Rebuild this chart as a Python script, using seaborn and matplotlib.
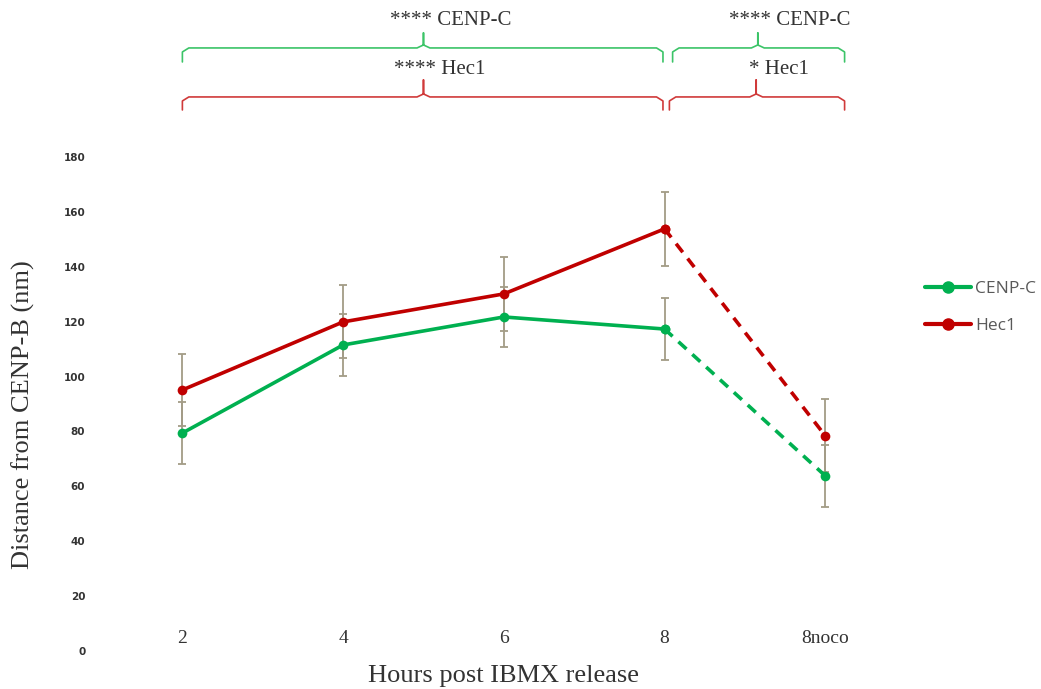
import numpy as np
import pandas as pd
import matplotlib
matplotlib.use("Agg")
import matplotlib.pyplot as plt
import matplotlib.transforms as mtrans
from matplotlib.lines import Line2D
import seaborn as sns

# ---- data ----
timepoints = ["2", "4", "6", "8", "8noco"]
cenpc_mean = [79.4, 111.5, 121.7, 117.3, 63.8]
cenpc_err = [11.4, 11.3, 11.0, 11.4, 11.2]
hec1_mean = [95.1, 119.9, 130.1, 153.8, 78.4]
hec1_err = [13.0, 13.3, 13.5, 13.4, 13.3]
series_names = ["CENP-C", "Hec1"]
bracket_labels = ["**** CENP-C", "**** Hec1", "**** CENP-C", "* Hec1"]
bracket_spans = [(0.0, 2.99, 1.5), (0.0, 2.99, 1.5), (3.05, 4.12, 3.58), (3.03, 4.12, 3.57)]
bracket_rows = [0, 1, 0, 1]
y_ticks = [0, 20, 40, 60, 80, 100, 120, 140, 160, 180]

GREEN = "#00b050"
RED = "#c00000"
ERRC = "#a39c86"

sns.set_theme(style="white")
plt.rcParams["font.family"] = ["DejaVu Sans"]

fig = plt.figure(figsize=(10.41, 6.89), dpi=100)
ax = fig.add_axes([0.098, 0.0552, 0.772, 0.717])

pos = np.arange(len(timepoints))
rows = []
for name, means in zip(series_names, [cenpc_mean, hec1_mean]):
    for p, m in zip(pos, means):
        rows.append({"series": name, "pos": p, "value": m})
df = pd.DataFrame(rows)

palette = {"CENP-C": GREEN, "Hec1": RED}

for means, errs in zip([cenpc_mean, hec1_mean], [cenpc_err, hec1_err]):
    ax.errorbar(pos, means, yerr=errs, fmt="none", ecolor=ERRC,
                elinewidth=1.3, capsize=3.2, capthick=1.3, zorder=1)

solid = df[df["pos"] <= 3]
dashed = df[df["pos"] >= 3]
sns.lineplot(data=solid, x="pos", y="value", hue="series", palette=palette,
             linewidth=2.6, marker="o", markersize=7, markeredgewidth=0,
             ax=ax, legend=False, zorder=3)
sns.lineplot(data=dashed, x="pos", y="value", hue="series", palette=palette,
             linewidth=2.6, marker="o", markersize=7, markeredgewidth=0,
             ax=ax, legend=False, zorder=3)
n = len(series_names)
for line in ax.get_lines()[-n:]:
    line.set_linestyle((0, (3, 2.2)))

ax.set_xlim(-0.5, 4.5)
ax.set_ylim(0, 180)
ax.set_yticks(y_ticks)
ax.set_yticklabels([str(t) for t in y_ticks], fontsize=7.5, fontweight="bold",
                   color="#333333")
ax.set_xticks(pos)
ax.set_xticklabels(timepoints, family=["Liberation Serif"], fontsize=14,
                   color="#333333")
ax.tick_params(axis="x", length=0, pad=-15)
ax.tick_params(axis="y", length=0, pad=12)
for s in ax.spines.values():
    s.set_visible(False)
ax.grid(False)

ax.set_xlabel("Hours post IBMX release", family=["Liberation Serif"],
              fontsize=19, color="#333333", labelpad=10)
ax.set_ylabel("Distance from CENP-B (nm)", family=["Liberation Serif"],
              fontsize=19, color="#333333")
ax.yaxis.set_label_coords(-0.083, 0.478)

handles = [Line2D([0], [0], color=palette[nm], lw=3, marker="o", markersize=8)
           for nm in series_names]
leg = fig.legend(handles, series_names, loc="upper left",
                 bbox_to_anchor=(0.874, 0.615), frameon=False,
                 handlelength=2.6, handletextpad=0.25, labelspacing=1.2,
                 prop={"family": "Open Sans", "size": 12.5})
for t in leg.get_texts():
    t.set_color("#595959")

trans = mtrans.blended_transform_factory(ax.transData, ax.transAxes)
def ypx(py):
    return (651 - py) / 494.0

row_cfg = {0: ("#3cc468", 48, 62, 33, 21),
           1: ("#d03a3a", 97, 110, 80, 70)}
text_dx = [0.17, 0.1, 0.2, 0.14]
for label, (x0, x1, xc), row, dx in zip(bracket_labels, bracket_spans, bracket_rows, text_dx):
    col, yh, ye, yp, yt = row_cfg[row]
    r = 0.04
    xs = [x0, x0, x0 + r, xc - r, xc, xc, xc, xc + r, x1 - r, x1, x1]
    ys = [ye, yh + 4, yh, yh, yh - 3, yp, yh - 3, yh, yh, yh + 4, ye]
    ax.plot(xs, [ypx(v) for v in ys], transform=trans, color=col, lw=1.2,
            clip_on=False, solid_joinstyle="round")
    ax.text(xc + dx, ypx(yt), label, transform=trans,
            ha="center", va="center", family=["Liberation Serif"],
            fontsize=15, color="#333333", clip_on=False)

fig.savefig("out.png", dpi=100, facecolor="white")
